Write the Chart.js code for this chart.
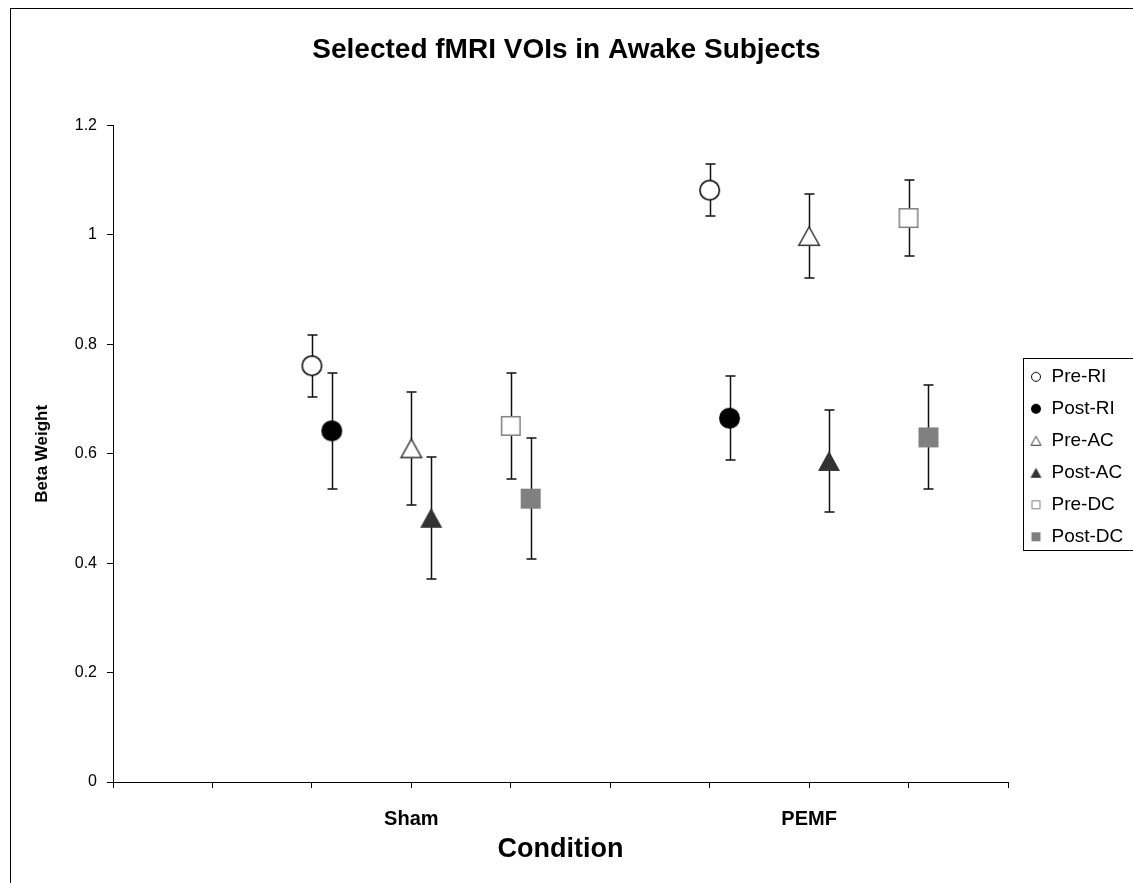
<!DOCTYPE html>
<html>
<head>
<meta charset="utf-8">
<script src="https://cdn.jsdelivr.net/npm/chart.js@4.4.1/dist/chart.umd.min.js"></script>
<style>
  html, body { margin: 0; padding: 0; background: #ffffff; }
  #wrap { position: relative; width: 1133px; height: 883px; }
</style>
</head>
<body>
<div id="wrap"><canvas id="c" width="1133" height="883"></canvas></div>
<script>
// ---- data ----
const conditions = ['Sham', 'PEMF'];
const conditionX = [3, 7];            // x position of each condition label
const seriesNames = ['Pre-RI', 'Post-RI', 'Pre-AC', 'Post-AC', 'Pre-DC', 'Post-DC'];
const seriesX = {                    // x value of each point (Sham, PEMF)
  'Pre-RI':  [2, 6],   'Post-RI': [2.2, 6.2],
  'Pre-AC':  [3, 7],   'Post-AC': [3.2, 7.2],
  'Pre-DC':  [4, 8],   'Post-DC': [4.2, 8.2]
};
const preRI   = [0.761, 1.082];  const preRIErr  = [0.057, 0.047];
const postRI  = [0.642, 0.665];  const postRIErr = [0.106, 0.077];
const preAC   = [0.610, 0.998];  const preACErr  = [0.103, 0.077];
const postAC  = [0.483, 0.587];  const postACErr = [0.112, 0.093];
const preDC   = [0.651, 1.031];  const preDCErr  = [0.097, 0.070];
const postDC  = [0.518, 0.630];  const postDCErr = [0.110, 0.095];
const yTicks  = [0, 0.2, 0.4, 0.6, 0.8, 1, 1.2];

const values = [preRI, postRI, preAC, postAC, preDC, postDC];
const errors = [preRIErr, postRIErr, preACErr, postACErr, preDCErr, postDCErr];

// ---- marker images ----
function marker(shape, size, fill, stroke, lw) {
  const c = document.createElement('canvas');
  const w = shape === 'triangle' ? Math.round(size * 1.1) + 2 : size + 2;
  const h = size + 2;
  c.width = w; c.height = h;
  const g = c.getContext('2d');
  g.lineWidth = lw;
  g.fillStyle = fill;
  g.strokeStyle = stroke;
  g.beginPath();
  if (shape === 'circle') {
    g.arc(w / 2, h / 2, size / 2 - lw / 2, 0, Math.PI * 2);
  } else if (shape === 'square') {
    g.rect(1 + lw / 2, 1 + lw / 2, size - lw, size - lw);
  } else {
    g.moveTo(w / 2, 1 + lw / 2);
    g.lineTo(w - 1 - lw / 2, h - 1 - lw / 2);
    g.lineTo(1 + lw / 2, h - 1 - lw / 2);
    g.closePath();
  }
  g.fill();
  if (lw > 0) g.stroke();
  return c;
}
const styles = [
  ['circle', '#ffffff', '#000000', 1.5],
  ['circle', '#000000', '#000000', 0],
  ['triangle', '#ffffff', '#333333', 1.5],
  ['triangle', '#333333', '#333333', 0],
  ['square', '#ffffff', '#808080', 1.5],
  ['square', '#808080', '#808080', 0]
];
const bigSize = [21, 21, 20, 20, 20, 20];
const smallSize = [10, 10, 10, 10, 9, 9];
const bigMarkers = styles.map((s, i) => marker(s[0], bigSize[i], s[1], s[2], s[3]));
const smallMarkers = styles.map((s, i) => marker(s[0], smallSize[i], s[1], s[2], Math.min(s[3], 1)));

const datasets = seriesNames.map((name, i) => ({
  label: name,
  data: values[i].map((v, k) => ({ x: seriesX[name][k], y: v })),
  errors: errors[i],
  pointStyle: bigMarkers[i],
  pointRadius: 10,
  pointHoverRadius: 10,
  showLine: false,
  backgroundColor: styles[i][1],
  borderColor: styles[i][2]
}));

// ---- plugins ----
const errorBars = {
  id: 'errorBars',
  beforeDatasetsDraw(chart) {
    const { ctx, scales: { x, y } } = chart;
    ctx.save();
    ctx.strokeStyle = '#111111';
    ctx.lineWidth = 1.5;
    chart.data.datasets.forEach(ds => {
      ds.data.forEach((p, k) => {
        const e = ds.errors[k];
        const px = Math.round(x.getPixelForValue(p.x)) + 0.5;
        const top = Math.round(y.getPixelForValue(p.y + e));
        const bot = Math.round(y.getPixelForValue(p.y - e));
        ctx.beginPath();
        ctx.moveTo(px, top); ctx.lineTo(px, bot);
        ctx.moveTo(px - 5, top); ctx.lineTo(px + 5, top);
        ctx.moveTo(px - 5, bot); ctx.lineTo(px + 5, bot);
        ctx.stroke();
      });
    });
    ctx.restore();
  }
};

const LEGEND_W = 125;
const frame = {
  id: 'frame',
  beforeUpdate(chart) {
    const lg = chart.legend;
    if (lg && !lg.__patched) {
      const orig = lg.fit;
      lg.fit = function () { orig.apply(this, arguments); this.width = LEGEND_W; };
      lg.__patched = true;
    }
  },
  afterLayout(chart) {
    const lg = chart.legend;
    if (lg) { lg.left += 9; lg.right += 9; lg.top += 3; lg.bottom += 3; }
  },
  afterDraw(chart) {
    const { ctx } = chart;
    ctx.save();
    ctx.strokeStyle = '#000000';
    ctx.lineWidth = 1;
    ctx.strokeRect(10.5, 8.5, 1200, 1000);
    const lg = chart.legend;
    if (lg && lg.legendHitBoxes && lg.legendHitBoxes.length) {
      const hb = lg.legendHitBoxes;
      const first = hb[0], last = hb[hb.length - 1];
      const l = first.left - 7;
      const t = first.top - 9;
      const b = last.top + last.height + 4;
      ctx.strokeRect(Math.round(l) + 0.5, Math.round(t) + 0.5, 200, Math.round(b - t));
    }
    ctx.restore();
  }
};

Chart.defaults.font.family = "'Liberation Sans', Arial, sans-serif";
Chart.defaults.color = '#000000';

new Chart(document.getElementById('c'), {
  type: 'scatter',
  data: { datasets },
  plugins: [errorBars, frame],
  options: {
    responsive: false,
    animation: false,
    events: [],
    layout: { padding: { left: 0, right: 0, top: 0, bottom: 0 } },
    plugins: {
      title: {
        display: true,
        text: 'Selected fMRI VOIs in Awake Subjects',
        font: { size: 28, weight: 'bold' },
        color: '#000000',
        padding: { top: 33, bottom: 59 }
      },
      legend: {
        display: true,
        position: 'right',
        align: 'center',
        fullSize: false,
        labels: {
          usePointStyle: true,
          boxWidth: 12,
          boxHeight: 12,
          padding: 13,
          color: '#000000',
          font: { size: 19 },
          generateLabels(chart) {
            return chart.data.datasets.map((ds, i) => ({
              text: ds.label,
              pointStyle: smallMarkers[i],
              fillStyle: ds.backgroundColor,
              strokeStyle: ds.borderColor,
              lineWidth: 0,
              hidden: false,
              datasetIndex: i
            }));
          }
        }
      },
      tooltip: { enabled: false }
    },
    scales: {
      x: {
        type: 'linear',
        min: 0, max: 9,
        afterBuildTicks(scale) {
          scale.ticks = [];
          for (let v = 0; v <= 9; v++) scale.ticks.push({ value: v });
        },
        afterFit(scale) { scale.height = 101; },
        grid: {
          display: true, drawOnChartArea: false, drawTicks: true,
          tickLength: 6, color: '#000000', lineWidth: 1
        },
        border: { display: true, color: '#000000', width: 1 },
        ticks: {
          autoSkip: false, maxRotation: 0, padding: 19,
          font: { size: 20, weight: 'bold' },
          callback(v) { const i = conditionX.indexOf(v); return i >= 0 ? conditions[i] : ''; }
        },
        title: {
          display: true, text: 'Condition',
          font: { size: 27, weight: 'bold' },
          padding: { top: 0, bottom: 17 }
        }
      },
      y: {
        type: 'linear',
        min: 0, max: 1.2,
        afterBuildTicks(scale) { scale.ticks = yTicks.map(v => ({ value: v })); },
        afterFit(scale) { scale.width = 113; },
        grid: {
          display: true, drawOnChartArea: false, drawTicks: true,
          tickLength: 6, color: '#000000', lineWidth: 1
        },
        border: { display: true, color: '#000000', width: 1 },
        ticks: {
          padding: 10,
          font: { size: 16 },
          callback(v) { return String(v); }
        },
        title: {
          display: true, text: 'Beta Weight',
          font: { size: 17, weight: 'bold' },
          padding: { top: 32, bottom: 0 }
        }
      }
    }
  }
});
</script>
</body>
</html>
